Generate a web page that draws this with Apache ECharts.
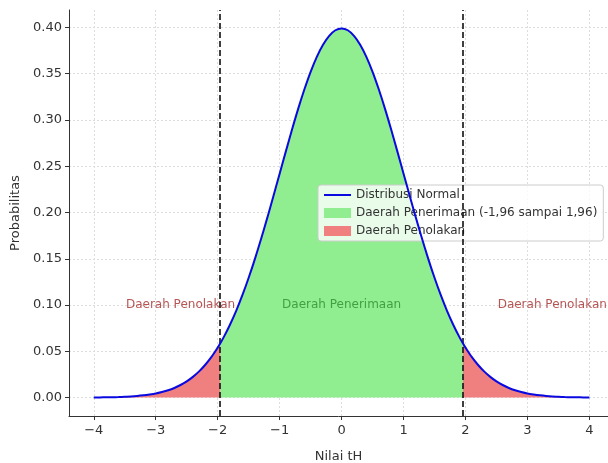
<!DOCTYPE html>
<html>
<head>
<meta charset="utf-8">
<script src="https://cdn.jsdelivr.net/npm/echarts@6/dist/echarts.min.js"></script>
<style>
  html, body { margin: 0; padding: 0; background: #fff; }
  #chart { width: 608px; height: 463px; }
</style>
</head>
<body>
<div id="chart"></div>
<script>
// nilai tH (sumbu x) dan probabilitas yang dibaca dari kurva
const tValues = [
  -4.0, -3.9, -3.8, -3.7, -3.6, -3.5, -3.4, -3.3, -3.2, -3.1,
  -3.0, -2.9, -2.8, -2.7, -2.6, -2.5, -2.4, -2.3, -2.2, -2.1,
  -2.0, -1.96, -1.9, -1.8, -1.7, -1.6, -1.5, -1.4, -1.3, -1.2, -1.1,
  -1.0, -0.9, -0.8, -0.7, -0.6, -0.5, -0.4, -0.3, -0.2, -0.1,
  0.0, 0.1, 0.2, 0.3, 0.4, 0.5, 0.6, 0.7, 0.8, 0.9,
  1.0, 1.1, 1.2, 1.3, 1.4, 1.5, 1.6, 1.7, 1.8, 1.9, 1.96,
  2.0, 2.1, 2.2, 2.3, 2.4, 2.5, 2.6, 2.7, 2.8, 2.9,
  3.0, 3.1, 3.2, 3.3, 3.4, 3.5, 3.6, 3.7, 3.8, 3.9, 4.0
];
const probValues = [
  0.0001, 0.0002, 0.0003, 0.0004, 0.0006, 0.0009, 0.0012, 0.0017, 0.0024, 0.0033,
  0.0044, 0.0060, 0.0079, 0.0104, 0.0136, 0.0175, 0.0224, 0.0283, 0.0355, 0.0440,
  0.0540, 0.0584, 0.0656, 0.0790, 0.0940, 0.1109, 0.1295, 0.1497, 0.1714, 0.1942, 0.2179,
  0.2420, 0.2661, 0.2897, 0.3123, 0.3332, 0.3521, 0.3683, 0.3814, 0.3910, 0.3970,
  0.3989, 0.3970, 0.3910, 0.3814, 0.3683, 0.3521, 0.3332, 0.3123, 0.2897, 0.2661,
  0.2420, 0.2179, 0.1942, 0.1714, 0.1497, 0.1295, 0.1109, 0.0940, 0.0790, 0.0656, 0.0584,
  0.0540, 0.0440, 0.0355, 0.0283, 0.0224, 0.0175, 0.0136, 0.0104, 0.0079, 0.0060,
  0.0044, 0.0033, 0.0024, 0.0017, 0.0012, 0.0009, 0.0006, 0.0004, 0.0003, 0.0002, 0.0001
];
const criticalValues = [-1.96, 1.96];
const xTicks = [-4, -3, -2, -1, 0, 1, 2, 3, 4];
const yTicks = [0, 0.05, 0.1, 0.15, 0.2, 0.25, 0.3, 0.35, 0.4];
// teks keterangan: [x, y, teks, warna]
const notes = [
  [-2.6, 0.1, "Daerah Penolakan", "#a52a2a"],
  [0, 0.1, "Daerah Penerimaan", "#2e8b2e"],
  [3.4, 0.1, "Daerah Penolakan", "#a52a2a"]
];

const points = tValues.map((t, i) => [t, probValues[i]]);
const leftTail = points.filter((p) => p[0] <= criticalValues[0]);
const middle = points.filter((p) => p[0] >= criticalValues[0] && p[0] <= criticalValues[1]);
const rightTail = points.filter((p) => p[0] >= criticalValues[1]);

const fontFamily = "DejaVu Sans";
const minus = (v) => String(v).replace("-", "\u2212");

const areaSeries = (name, data, color) => ({
  name: name,
  type: "line",
  data: data,
  symbol: "none",
  smooth: 0.3,
  lineStyle: { width: 0 },
  itemStyle: { color: color },
  areaStyle: { color: color, opacity: 1, origin: 0 },
  z: 1,
  silent: true
});

let myChart = echarts.init(document.getElementById("chart"));
myChart.setOption({
  animation: false,
  backgroundColor: "#fff",
  textStyle: { fontFamily: fontFamily },
  grid: { left: 69, right: 0, top: 10, bottom: 47, outerBoundsMode: "none" },
  legend: {
    orient: "vertical",
    left: 318,
    top: 185,
    padding: [4, 6, 4, 5],
    itemGap: 6,
    itemWidth: 27,
    itemHeight: 10,
    backgroundColor: "rgba(255,255,255,0.8)",
    borderColor: "#cccccc",
    borderWidth: 1,
    borderRadius: 3,
    textStyle: { fontSize: 12, color: "#333", fontFamily: fontFamily },
    data: [
      { name: "Distribusi Normal", itemStyle: { opacity: 0 } },
      { name: "Daerah Penerimaan (-1,96 sampai 1,96)", icon: "rect" },
      { name: "Daerah Penolakan", icon: "rect" }
    ]
  },
  xAxis: {
    type: "value",
    min: -4.4,
    max: 4.3,
    name: "Nilai tH",
    nameLocation: "middle",
    nameGap: 34,
    nameTextStyle: { fontSize: 13, color: "#333" },
    axisLine: { show: true, onZero: false, lineStyle: { color: "#333", width: 1 } },
    axisTick: { show: true, length: 4, customValues: xTicks, lineStyle: { color: "#333" } },
    axisLabel: { fontSize: 13, color: "#333", margin: 8, customValues: xTicks, formatter: minus },
    splitLine: { show: true, lineStyle: { color: "#dddddd", type: [2, 2], width: 1 } }
  },
  yAxis: {
    type: "value",
    min: -0.0199,
    max: 0.4189,
    name: "Probabilitas",
    nameLocation: "middle",
    nameGap: 37,
    nameTextStyle: { fontSize: 13, color: "#333" },
    axisLine: { show: true, onZero: false, lineStyle: { color: "#333", width: 1 } },
    axisTick: { show: true, length: 4, customValues: yTicks, lineStyle: { color: "#333" } },
    axisLabel: {
      fontSize: 13, color: "#333", margin: 7, customValues: yTicks,
      formatter: (v) => v.toFixed(2)
    },
    splitLine: { show: true, lineStyle: { color: "#dddddd", type: [2, 2], width: 1 } }
  },
  series: [
    {
      name: "Distribusi Normal",
      type: "line",
      data: points,
      symbol: "none",
      smooth: 0.3,
      itemStyle: { color: "#0a0ae0" },
      lineStyle: { color: "#0a0ae0", width: 2 },
      z: 5,
      markLine: {
        silent: true,
        symbol: "none",
        label: { show: false },
        lineStyle: { color: "#111", type: [6, 3], width: 1.6 },
        data: criticalValues.map((c) => ({ xAxis: c }))
      }
    },
    areaSeries("Daerah Penerimaan (-1,96 sampai 1,96)", middle, "#90ee90"),
    areaSeries("Daerah Penolakan", leftTail, "#f08080"),
    areaSeries("Daerah Penolakan", rightTail, "#f08080"),
    {
      name: "keterangan",
      type: "scatter",
      symbolSize: 0,
      silent: true,
      z: 6,
      data: notes.map((n) => ({
        value: [n[0], n[1]],
        label: {
          show: true,
          position: "inside",
          formatter: n[2],
          color: n[3],
          fontSize: 12,
          fontFamily: fontFamily
        }
      }))
    }
  ]
});

window.addEventListener("resize", () => {
  myChart.resize();
});
</script>
</body>
</html>
